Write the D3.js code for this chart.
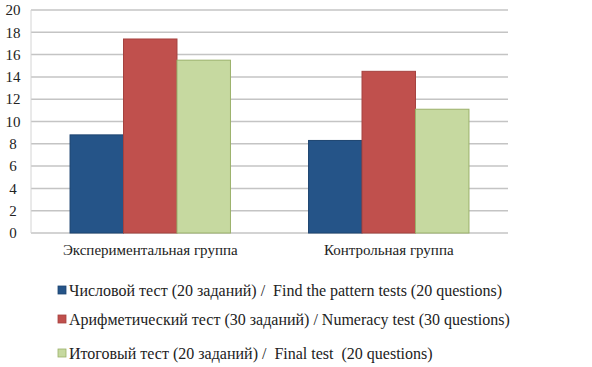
<!DOCTYPE html>
<html>
<head>
<meta charset="utf-8">
<script src="https://cdn.jsdelivr.net/npm/d3@7"></script>
<style>
    body { margin: 0; background: #fff; }
</style>
</head>
<body>
<div id="chart"></div>
<script>
// data
let groups = ["Экспериментальная группа", "Контрольная группа"];
let seriesNames = [
    "Числовой тест (20 заданий) /  Find the pattern tests (20 questions)",
    "Арифметический тест (30 заданий) / Numeracy test (30 questions)",
    "Итоговый тест (20 заданий) /  Final test  (20 questions)"
];
let patternValues = [8.8, 8.3];
let numeracyValues = [17.4, 14.5];
let finalValues = [15.5, 11.1];
let yTicks = [0, 2, 4, 6, 8, 10, 12, 14, 16, 18, 20];

let fills = ["#255488", "#c0504d", "#c6d9a0"];
let strokes = ["#1d4470", "#a5423f", "#9bb16a"];

let width = 592, height = 367;
let margin = {top: 10, left: 31, right: 84, bottom: 134};
let serif = "'Liberation Serif', serif";
let textColor = "#222";

let svg = d3.select("#chart").append("svg")
    .attr("width", width)
    .attr("height", height);

let xScale = d3.scaleBand()
    .domain(groups)
    .range([margin.left, width - margin.right])
    .paddingInner(0)
    .paddingOuter(0);

let xInner = d3.scaleBand()
    .domain(d3.range(seriesNames.length))
    .range([0, xScale.bandwidth()])
    .paddingOuter(0.73);

let yScale = d3.scaleLinear()
    .domain([0, 20])
    .range([height - margin.bottom, margin.top]);

// gridlines
svg.append("g")
    .selectAll("line")
    .data(yTicks)
    .enter().append("line")
    .attr("x1", margin.left)
    .attr("x2", width - margin.right)
    .attr("y1", d => yScale(d))
    .attr("y2", d => yScale(d))
    .attr("stroke", "#c4c4c4")
    .attr("stroke-width", 1.5);

// left border of plot
svg.append("line")
    .attr("x1", margin.left).attr("x2", margin.left)
    .attr("y1", yScale(20)).attr("y2", yScale(0))
    .attr("stroke", "#d4d4d4");

// y labels
svg.append("g")
    .selectAll("text")
    .data(yTicks)
    .enter().append("text")
    .attr("x", 13)
    .attr("y", d => yScale(d))
    .attr("dy", "0.35em")
    .attr("text-anchor", "middle")
    .attr("fill", textColor)
    .style("font-family", serif)
    .style("font-size", "15px")
    .text(d => d);

// bars
let table = [patternValues, numeracyValues, finalValues];
let barData = [];
groups.forEach((g, gi) => {
    table.forEach((vals, si) => {
        barData.push({group: g, series: si, value: vals[gi]});
    });
});

svg.append("g")
    .selectAll("rect")
    .data(barData)
    .enter().append("rect")
    .attr("x", d => xScale(d.group) + xInner(d.series))
    .attr("y", d => yScale(d.value))
    .attr("width", xInner.bandwidth())
    .attr("height", d => yScale(0) - yScale(d.value))
    .attr("fill", d => fills[d.series])
    .attr("stroke", d => strokes[d.series])
    .attr("stroke-width", 1);

// category labels
svg.append("g")
    .selectAll("text")
    .data(groups)
    .enter().append("text")
    .attr("x", d => xScale(d) + xScale.bandwidth() / 2)
    .attr("y", yScale(0) + 22)
    .attr("text-anchor", "middle")
    .attr("fill", textColor)
    .style("font-family", serif)
    .style("font-size", "15px")
    .text(d => d);

// legend
let legendY = [290, 319, 353];
let legend = svg.append("g")
    .selectAll("g")
    .data(seriesNames)
    .enter().append("g")
    .attr("transform", (d, i) => "translate(58," + legendY[i] + ")");

legend.append("rect")
    .attr("x", 0).attr("y", -4)
    .attr("width", 8).attr("height", 8)
    .attr("fill", (d, i) => fills[i])
    .attr("stroke", (d, i) => strokes[i])
    .attr("stroke-width", 0.8);

legend.append("text")
    .attr("x", 11)
    .attr("dy", "0.35em")
    .attr("fill", textColor)
    .style("font-family", serif)
    .style("font-size", "16px")
    .style("white-space", "pre")
    .text(d => d);
</script>
</body>
</html>
